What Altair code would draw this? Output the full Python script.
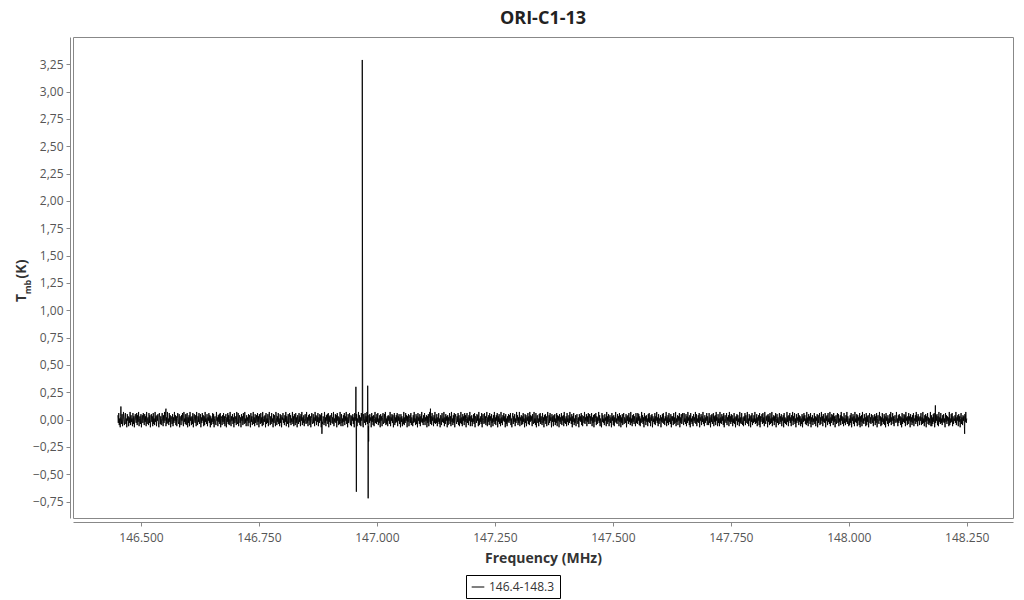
import altair as alt
import pandas as pd

# Channel grid of the spectrum (MHz): three segments of 600 channels each
F_STEP = 0.001
SEG_A_START = 146.451
SEG_B_START = 147.051
SEG_C_START = 147.651

# Baseline noise, in hundredths of a kelvin
noise_a = [
    4, -3, 6, -5, 1, -7, 3, 2, -4, 5, -6, 0, 7, -2, -5, 3, 6, -4, 1, -7, 5, -1, 3, -6, 2,
    -3, 7, -5, 4, -2, 1, -6, 6, -4, 3, -7, 2, 5, -1, -3, 6, -5, 4, -2, 7, -6, 1, 3, -4, 5,
    -7, 2, 4, -3, 6, -1, -5, 5, -2, 3, -6, 7, -4, 1, 2, -5, 6, -3, 4, -7, 0, 5, -2, 3, -6,
    6, -4, 1, -5, 7, -2, 3, -6, 4, -1, 5, -3, -7, 6, 2, -4, 3, -5, 1, 6, -2, -6, 4, -3, 7,
    -1, 5, -6, 2, -4, 7, -3, 1, -5, 6, -2, 4, -7, 3, 0, -4, 5, -6, 2, -3, 7, -1, 4, -5, 3,
    -6, 1, 6, -2, -4, 5, -7, 3, 2, -5, 4, -1, 6, -3, -6, 7, -2, 1, -4, 5, -5, 3, 6, -7, 2,
    -3, 4, -6, 7, -1, 2, -5, 3, -4, 6, -7, 1, 5, -2, -3, 4, -6, 7, 0, -5, 3, -2, 6, -4, 1,
    5, -7, 2, -3, 6, -1, 4, -6, 3, -5, 7, -2, 1, -4, 5, -6, 2, -1, 6, -3, 4, -7, 3, -5, 1,
    -2, 6, -4, 5, -7, 1, 3, -3, -5, 7, -1, 2, -6, 4, -2, 5, -4, 6, -7, 3, 1, -5, 4, -2, 6,
    -4, 3, -6, 1, 5, -7, 2, -2, 6, -4, 4, -5, 1, 7, -3, -6, 3, -1, 5, -4, 2, -7, 6, -3, 0,
    3, -5, 7, -2, -4, 6, -6, 1, 4, -3, 2, -7, 5, -1, 3, -5, 6, -2, -4, 7, -3, 1, -6, 4, -1,
    2, -6, 5, -3, 4, -1, -7, 6, -2, 3, -5, 1, 7, -4, 2, -6, 5, -3, -1, 4, -5, 6, -2, 3, -7,
    5, -1, -4, 6, -3, 2, -6, 7, -5, 1, 3, -2, 4, -7, 6, -4, 1, -3, 5, -6, 2, 7, -1, -5, 3,
    -4, 6, -2, 1, -7, 5, -3, 4, -1, -6, 7, 2, -5, 3, -2, 6, -4, 1, -6, 5, -3, 4, -7, 2, 0,
    6, -3, 1, -5, 4, -2, 7, -6, 3, -1, -4, 5, -7, 2, 6, -3, 4, -5, 1, -2, 7, -4, 3, -6, 5,
    -1, -5, 6, -3, 2, -7, 4, 1, -4, 6, -2, 3, -6, 5, -1, 7, -5, 2, -3, 4, -6, 1, 5, -2, -4,
    7, -3, 2, -6, 4, -1, 5, -5, 3, -7, 1, 6, -2, -4, 5, -3, 2, -6, 7, -1, 4, -5, 3, -2, 6,
    -6, 2, -3, 5, -1, 4, -7, 6, -2, -4, 3, 1, -5, 7, -3, 2, -6, 4, -1, 5, -4, 6, -7, 3, -2,
    4, -5, 1, 6, -3, 2, -4, 7, -6, 1, -2, 5, -3, 4, -7, 6, -1, 3, -5, 2, -4, 7, -2, -6, 5,
    -3, 1, -6, 4, -2, 6, -5, 3, -1, 7, -4, 2, -7, 5, -3, 1, 6, -2, -5, 4, -6, 3, -1, 5, -4,
    2, -7, 6, -1, 3, -4, 5, -6, 1, -2, 7, -3, 4, -5, 2, -6, 6, -1, 3, -4, -7, 5, 1, -3, 6,
    -5, 3, -2, 7, -4, 1, -6, 4, -3, 5, -1, 2, -7, 6, -2, 3, -5, 4, -6, 1, 7, -3, 2, -4, 5,
    -2, 6, -5, 1, -3, 4, -7, 5, -1, 3, -6, 2, 6, -4, -2, 5, -3, 7, -5, 1, -4, 3, -6, 4, -1,
    3, -4, 7, -6, 2, -1, 5, -3, 4, -7, 1, 6, -5, 2, -3, 4, -2, 6, -6, 3, -1, 5, -4, 2, -7,
]
noise_b = [
    5, -2, 3, -6, 1, -4, 7, -5, 2, -3, 6, -1, 4, -7, 3, -2, 5, -6, 1, 4, -3, 6, -5, 2, -1,
    -6, 4, -3, 7, -2, 1, -5, 5, -4, 3, -7, 6, -1, 2, -4, 5, -6, 3, -2, 7, -3, 1, -5, 4, -2,
    6, -5, 2, -1, 4, -7, 3, -3, 5, -6, 1, 7, -2, -4, 3, -5, 6, -1, 2, -6, 4, -3, 7, -4, 1,
    -3, 5, -6, 2, -2, 6, -4, 1, -7, 4, 3, -5, 6, -2, 1, -3, 7, -6, 2, -4, 5, -1, 3, -7, 4,
    -5, 2, -1, 6, -4, 3, -6, 7, -2, 1, -5, 4, -3, 6, -7, 2, 5, -1, -4, 3, -2, 6, -5, 4, -6,
    1, -3, 7, -4, 2, -6, 5, -1, 3, -5, 6, -2, 4, -7, 1, 6, -3, 2, -5, 4, -1, 7, -6, 3, -2,
    4, -6, 1, -2, 5, -4, 6, -7, 3, 2, -3, 5, -1, 4, -6, 7, -5, 1, -2, 3, -4, 6, -7, 2, 5,
    -1, -4, 6, -3, 3, -5, 1, 7, -6, 2, -2, 4, -5, 6, -1, 3, -7, 5, -3, 1, -6, 4, -2, 7, -4,
    2, -5, 4, -1, 6, -7, 3, -2, 5, -4, 1, -6, 7, -3, 2, -5, 4, -1, 6, -2, 3, -7, 5, -4, 1,
    -6, 3, -2, 5, -3, 4, -1, 6, -5, 1, -7, 2, 6, -4, 3, -2, 5, -6, 1, -3, 7, -1, 4, -5, 2,
    -3, 7, -6, 2, -1, 4, -5, 3, -4, 6, -2, 1, -7, 5, -3, 4, -6, 2, -1, 6, -4, 3, -5, 7, -2,
    4, -1, 3, -6, 5, -2, -4, 7, -3, 1, -5, 6, -7, 2, 4, -3, 1, -6, 5, -2, 6, -4, 3, -1, -5,
    6, -3, 2, -7, 4, -1, 5, -4, 3, -6, 1, 7, -2, -5, 4, -3, 6, -1, 2, -7, 5, -2, 3, -6, 4,
    -2, 5, -5, 1, -3, 6, -6, 4, -1, 3, -7, 5, -2, 2, -4, 6, -5, 3, -1, 4, -6, 7, -3, 1, -4,
    3, -6, 6, -2, 1, -5, 4, -3, 7, -1, 2, -4, 5, -7, 3, -2, 6, -5, 1, -3, 4, -6, 2, 5, -1,
    -4, 2, -7, 5, -1, 3, -2, 6, -5, 4, -6, 1, 3, -3, 7, -4, 2, -1, 5, -6, 3, -2, 6, -4, 1,
    5, -4, 3, -1, 6, -6, 2, -3, 4, -7, 5, -2, 1, 6, -5, 3, -4, 2, -1, 7, -3, 4, -6, 1, -2,
    -7, 6, -2, 4, -3, 1, -5, 5, -1, 2, -6, 7, -4, 3, -2, 5, -6, 1, 4, -3, 2, -7, 6, -1, 3,
    -5, 4, -6, 2, -2, 7, -3, 1, -4, 5, -1, 3, -6, 6, -2, 4, -7, 2, -3, 5, -5, 1, 6, -4, 2,
    1, -3, 5, -7, 3, -1, 4, -4, 6, -2, 2, -5, 7, -3, 1, -6, 4, -2, 5, -4, 3, -1, -6, 6, -3,
    2, -4, 6, -1, 5, -5, 3, -6, 1, -3, 7, -2, 4, -4, 2, -7, 6, -1, 3, -5, 4, -2, 1, -6, 5,
    -2, 6, -3, 2, -6, 4, -1, 5, -7, 3, -2, 1, -4, 6, -5, 3, -1, 7, -3, 2, -6, 5, -4, 1, -1,
    4, -7, 2, -2, 5, -3, 6, -4, 1, -5, 3, -1, 7, -6, 2, -3, 4, -5, 6, -2, 1, -4, 5, -7, 3,
    -1, 3, -5, 6, -4, 2, -3, 7, -6, 1, -2, 4, -5, 3, -1, 6, -7, 2, -3, 5, -4, 1, 6, -2, -5,
]
noise_c = [
    6, -2, 1, -4, 5, -6, 3, -3, 7, -1, 2, -5, 4, -7, 6, -2, 1, -4, 3, -6, 5, -1, 2, -3, 7,
    -4, 5, -6, 1, -2, 4, -3, 6, -7, 2, -1, 5, -5, 3, -2, 7, -4, 1, -6, 4, -3, 2, -1, 6, -5,
    3, -1, -5, 6, -3, 2, -7, 4, -2, 5, -4, 1, 6, -6, 3, -2, 4, -5, 7, -1, 2, -6, 5, -3, 1,
    -6, 7, -3, 2, -4, 5, -1, 3, -5, 6, -7, 1, 4, -2, -3, 6, -5, 2, -1, 4, -6, 7, -2, 3, -4,
    5, -2, 4, -6, 1, -3, 6, -4, 2, -7, 3, -1, 5, -5, 4, -2, 1, -6, 7, -3, 2, -4, 6, -1, -5,
    2, -6, 3, -1, 6, -5, 4, -2, -3, 7, -4, 1, -6, 5, -1, 3, -7, 4, -2, 6, -5, 1, -3, 4, -2,
    7, -4, 1, -3, 5, -6, 2, -1, 4, -5, 6, -7, 3, -2, 1, 5, -4, 6, -3, 2, -6, 7, -1, -4, 3,
    -1, 4, -7, 5, -2, 3, -5, 6, -4, 1, -3, 7, -6, 2, -1, 4, -5, 3, -2, 6, -7, 1, 5, -3, 2,
    -5, 1, 6, -4, 3, -2, 5, -6, 2, -1, 4, -7, 6, -3, 2, -4, 1, -5, 7, -2, 3, -6, 4, -1, 6,
    -3, 2, -6, 4, -1, 7, -5, 3, -2, 6, -4, 1, -7, 5, -3, 2, -1, 6, -5, 4, -2, 3, -6, 1, -4,
    5, -7, 3, -2, 6, -1, 4, -4, 1, -5, 7, -3, 2, -6, 5, -1, 3, -4, 6, -7, 2, -2, 4, -5, 1,
    -2, 6, -4, 3, -6, 2, -1, 5, -7, 4, -3, 1, 6, -5, 2, -4, 7, -1, 3, -6, 5, -2, 1, -3, 6,
    -7, 3, -1, 4, -5, 6, -2, 1, -4, 7, -6, 2, -3, 5, -1, 4, -5, 6, -2, 3, -7, 1, 4, -4, 2,
    6, -3, 5, -6, 1, -2, 4, -5, 7, -1, 3, -4, 2, -6, 6, -3, 1, -5, 4, -2, 7, -4, 3, -1, -6,
    1, -5, 4, -3, 6, -7, 2, -1, 5, -4, 3, -6, 7, -2, 1, -3, 5, -6, 4, -1, 2, -5, 6, -7, 3,
    -2, 4, -6, 7, -3, 1, -4, 5, -1, 2, -6, 6, -5, 3, -2, 4, -7, 1, 6, -3, 2, -4, 5, -1, -3,
    4, -6, 2, -1, 5, -5, 3, -3, 6, -7, 1, 4, -2, -4, 7, -1, 3, -6, 2, -5, 6, -2, 1, -4, 5,
    -5, 3, -7, 6, -1, 2, -4, 4, -6, 1, -3, 5, -2, 7, -5, 2, -1, 6, -4, 3, -6, 1, 4, -2, -3,
    7, -2, 1, -6, 4, -3, 5, -1, 3, -5, 2, -7, 6, -4, 1, -2, 5, -3, 4, -6, 7, -1, 2, -5, 3,
    -4, 6, -1, 3, -7, 5, -2, 2, -5, 4, -3, 6, -6, 1, -1, 4, -4, 7, -2, 3, -6, 5, -1, 2, -5,
    3, -1, 6, -5, 2, -4, 7, -3, 1, -6, 4, -2, 5, -7, 3, -1, 6, -4, 2, -5, 1, -3, 7, -6, 4,
    -6, 2, -4, 5, -2, 6, -7, 1, -3, 4, -1, 5, -5, 3, -6, 7, -2, 2, -4, 6, -3, 1, -5, 4, -2,
    5, -3, 1, -7, 6, -2, 4, -4, 3, -1, 2, -6, 7, -5, 1, -3, 5, -2, 6, -6, 3, -4, 1, -1, 4,
    -3, 7, -5, 2, -1, 4, -6, 5, -2, 3, -7, 1, 6, -4, 2, -5, 4, -1, 3, -6, 5, -2, 7, -3, 1,
]

# Narrow line features and stray outlier channels (MHz, K)
feature_freq = [146.4575, 146.5530, 146.8835, 146.9555, 146.9565, 146.9690,
                146.9805, 146.9815, 146.9825, 147.1135, 148.1835, 148.2455]
feature_tmb = [0.12, 0.10, -0.13, 0.30, -0.66, 3.29,
               0.31, -0.72, -0.20, 0.10, 0.13, -0.13]

SERIES = "146.4-148.3"
x_ticks = [146.5, 146.75, 147.0, 147.25, 147.5, 147.75, 148.0, 148.25]
y_ticks = [-0.75, -0.5, -0.25, 0.0, 0.25, 0.5, 0.75, 1.0, 1.25, 1.5, 1.75,
           2.0, 2.25, 2.5, 2.75, 3.0, 3.25]

freq, tmb = [], []
for start, seg in ((SEG_A_START, noise_a), (SEG_B_START, noise_b), (SEG_C_START, noise_c)):
    freq += [round(start + i * F_STEP, 4) for i in range(len(seg))]
    tmb += [v / 100 for v in seg]
df = pd.DataFrame({"f": freq + feature_freq, "t": tmb + feature_tmb})
df = df.sort_values("f").reset_index(drop=True)
df["series"] = SERIES

FONT = "Open Sans"

line = alt.Chart(df).mark_line(strokeWidth=0.9, clip=True).encode(
    x=alt.X("f:Q",
            scale=alt.Scale(domain=[146.356, 148.348], nice=False, zero=False),
            axis=alt.Axis(values=x_ticks, format=".3f", title="Frequency (MHz)",
                          grid=False, offset=4, tickSize=4, labelPadding=6,
                          titlePadding=8, labelFontSize=12, titleFontSize=14,
                          labelColor="#555", titleColor="#333", titleFont=FONT,
                          labelFont=FONT, titleFontWeight="bold",
                          domainColor="#888", tickColor="#888")),
    y=alt.Y("t:Q",
            scale=alt.Scale(domain=[-0.9, 3.5], nice=False, zero=False),
            axis=alt.Axis(values=y_ticks,
                          labelExpr="replace(format(datum.value, '.2f'), '.', ',')",
                          title=None, grid=False, offset=3, tickSize=4,
                          labelPadding=3, labelFontSize=12, labelColor="#555",
                          labelFont=FONT, domainColor="#888", tickColor="#888")),
    color=alt.Color("series:N", scale=alt.Scale(range=["black"]),
                    legend=alt.Legend(title=None, orient="none", legendX=393,
                                      legendY=538, strokeColor="black", padding=5,
                                      symbolType="stroke", symbolSize=160,
                                      symbolStrokeWidth=1, labelFontSize=12,
                                      labelFont=FONT, labelColor="#333")),
)

one = pd.DataFrame({"a": [0]})
t_big = alt.Chart(one).mark_text(text="T", angle=270, fontSize=14, fontWeight="bold",
                                 font=FONT, color="#333").encode(
    x=alt.value(-51), y=alt.value(261))
t_sub = alt.Chart(one).mark_text(text="mb", angle=270, fontSize=9, fontWeight="bold",
                                 font=FONT, color="#333").encode(
    x=alt.value(-45), y=alt.value(250))
t_unit = alt.Chart(one).mark_text(text="(K)", angle=270, fontSize=14, fontWeight="bold",
                                  font=FONT, color="#333").encode(
    x=alt.value(-51), y=alt.value(232))

chart = alt.layer(line, t_big, t_sub, t_unit).properties(
    width=940,
    height=481,
    title=alt.Title("ORI-C1-13", fontSize=18, font=FONT, fontWeight="bold",
                    color="#222", offset=9),
    autosize=alt.AutoSizeParams(type="none"),
    padding={"left": 65, "top": 29, "right": 3, "bottom": 83},
).configure_view(stroke="#888", strokeWidth=1)

chart.save("out.html", embed_options={"renderer": "svg", "actions": False})
